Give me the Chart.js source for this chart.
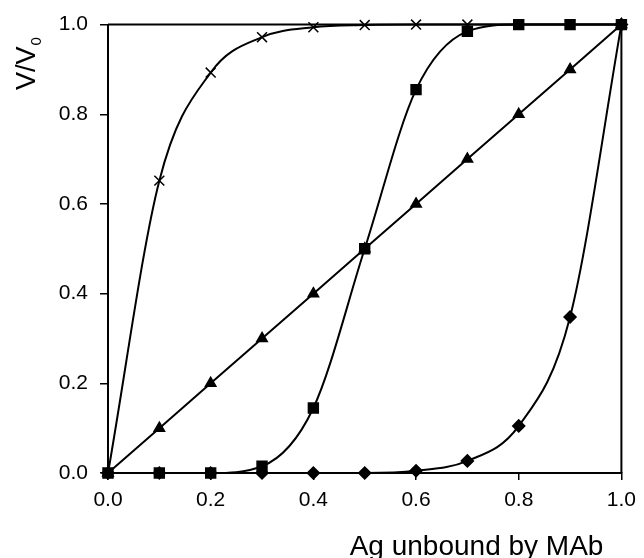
<!DOCTYPE html>
<html>
<head>
<meta charset="utf-8">
<script src="https://cdn.jsdelivr.net/npm/chart.js@4/dist/chart.umd.min.js"></script>
<style>
  html, body { margin: 0; padding: 0; background: #fff; }
  #wrap { width: 644px; height: 558px; }
</style>
</head>
<body>
<div id="wrap"><canvas id="chart" width="644" height="558"></canvas></div>
<script>
// fraction of antigen unbound (x) and V/V0 for the four curves
var agUnbound = [0.0, 0.1, 0.2, 0.3, 0.4, 0.5, 0.6, 0.7, 0.8, 0.9, 1.0];
var crossVals = [0.0, 0.652, 0.893, 0.972, 0.994, 0.999, 1.0, 1.0, 1.0, 1.0, 1.0];
var squareVals = [0.0, 0.0, 0.0, 0.015, 0.145, 0.5, 0.855, 0.985, 1.0, 1.0, 1.0];
var triangleVals = [0.0, 0.1, 0.2, 0.3, 0.4, 0.5, 0.6, 0.7, 0.8, 0.9, 1.0];
var diamondVals = [0.0, 0.0, 0.0, 0.0, 0.0, 0.0, 0.005, 0.027, 0.105, 0.348, 1.0];

var xTicks = [0.0, 0.2, 0.4, 0.6, 0.8, 1.0];
var yTicks = [0.0, 0.2, 0.4, 0.6, 0.8, 1.0];

var FONT = "Arial, 'Liberation Sans', sans-serif";

function pts(vals) {
    return agUnbound.map(function (x, i) { return { x: x, y: vals[i] }; });
}

function series(label, vals, style, radius, smooth) {
    return {
        label: label,
        data: pts(vals),
        borderColor: '#000',
        backgroundColor: '#000',
        borderWidth: 2,
        pointStyle: style,
        pointRadius: radius,
        pointHoverRadius: radius,
        pointBorderWidth: 1.5,
        pointBorderColor: '#000',
        pointBackgroundColor: '#000',
        cubicInterpolationMode: smooth ? 'monotone' : 'default',
        tension: 0,
        clip: 8,
        fill: false
    };
}

// frame on top/right plus axis titles
var framePlugin = {
    id: 'frame',
    afterDraw: function (chart) {
        var ctx = chart.ctx, a = chart.chartArea;
        ctx.save();
        ctx.strokeStyle = '#000';
        ctx.lineWidth = 2;
        ctx.beginPath();
        ctx.moveTo(a.left, a.top);
        ctx.lineTo(a.right, a.top);
        ctx.lineTo(a.right, a.bottom);
        ctx.stroke();

        ctx.fillStyle = '#000';
        // x title
        ctx.font = '28px ' + FONT;
        ctx.textAlign = 'right';
        ctx.textBaseline = 'alphabetic';
        ctx.fillText('Ag unbound by MAb', a.right - 18, 555);

        // y title with subscript
        ctx.translate(35, 90);
        ctx.rotate(-Math.PI / 2);
        ctx.textAlign = 'left';
        ctx.font = '27px ' + FONT;
        ctx.fillText('V/V', 0, 0);
        var w = ctx.measureText('V/V').width;
        ctx.font = '15px ' + FONT;
        ctx.fillText('0', w + 1, 6);
        ctx.restore();
    }
};

var ctx = document.getElementById('chart').getContext('2d');
var chart = new Chart(ctx, {
    type: 'line',
    data: {
        datasets: [
            series('diamond', diamondVals, 'rectRot', 6, true),
            series('triangle', triangleVals, 'triangle', 6, false),
            series('cross', crossVals, 'crossRot', 7, true),
            series('square', squareVals, 'rect', 7, true)
        ]
    },
    options: {
        responsive: false,
        animation: false,
        layout: { padding: { left: 0, right: 19, top: 20, bottom: 0 } },
        plugins: {
            legend: { display: false },
            tooltip: { enabled: false }
        },
        scales: {
            x: {
                type: 'linear',
                min: 0,
                max: 1,
                afterBuildTicks: function (s) { s.ticks = xTicks.map(function (v) { return { value: v }; }); },
                afterFit: function (s) { s.height = 85; },
                grid: { display: true, drawOnChartArea: false, drawTicks: true, tickLength: 7, color: '#000', lineWidth: 1.5 },
                border: { display: true, color: '#000', width: 2 },
                ticks: {
                    color: '#000',
                    padding: 8,
                    maxRotation: 0,
                    font: { family: FONT, size: 21 },
                    callback: function (v) { return Number(v).toFixed(1); }
                }
            },
            y: {
                type: 'linear',
                min: 0,
                max: 1,
                afterBuildTicks: function (s) { s.ticks = yTicks.map(function (v) { return { value: v }; }); },
                afterFit: function (s) { s.width = 108; },
                grid: { display: true, drawOnChartArea: false, drawTicks: true, tickLength: 8, color: '#000', lineWidth: 1.5 },
                border: { display: true, color: '#000', width: 2 },
                ticks: {
                    color: '#000',
                    padding: 12,
                    font: { family: FONT, size: 21 },
                    callback: function (v) { return Number(v).toFixed(1); }
                }
            }
        }
    },
    plugins: [framePlugin]
});
</script>
</body>
</html>
